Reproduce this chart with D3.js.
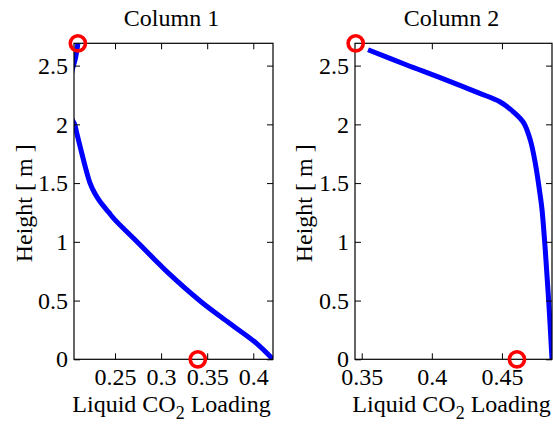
<!DOCTYPE html>
<html>
<head>
<meta charset="utf-8">
<script src="https://cdn.jsdelivr.net/npm/d3@7"></script>
<style>
  html, body { margin: 0; padding: 0; background: #fff; }
  svg { display: block; }
  text { font-family: "Liberation Serif", "Times New Roman", serif; fill: #000; }
</style>
</head>
<body>
<svg id="chart" width="553" height="424"></svg>
<script>
// Liquid CO2 loading profiles along the packed height of two columns
const col1Loading = [0.2097, 0.2070, 0.2032, 0.2015, 0.2014, 0.2030, 0.2062, 0.2085, 0.2139, 0.2180, 0.2229, 0.2276, 0.2335, 0.2433, 0.2500, 0.2755, 0.2934, 0.3080, 0.3433, 0.3742, 0.4035, 0.4214];
const col1Height  = [2.69,   2.56,   2.45,   2.30,   2.15,   2.05,   2.00,   1.925,  1.755,  1.63,   1.50,   1.42,   1.345,  1.25,   1.187,  0.988,  0.846,  0.733,  0.490,  0.307,  0.136,  0.0];

const col2Loading = [0.3545, 0.3821, 0.4059, 0.4333, 0.4488, 0.4583, 0.4654, 0.4702, 0.4738, 0.4774, 0.4786, 0.4809, 0.4833, 0.4857];
const col2Height  = [2.635,  2.505,  2.398,  2.268,  2.190,  2.105,  2.015,  1.868,  1.669,  1.385,  1.272,  0.931,  0.505,  0.0];

// Inlet / outlet loading markers (red rings)
const col1MarkLoading = [0.2097, 0.3398];
const col1MarkHeight  = [2.69, 0.0];
const col2MarkLoading = [0.3457, 0.4607];
const col2MarkHeight  = [2.69, 0.0];

const titles = ["Column 1", "Column 2"];
const col1XTicks = [0.25, 0.3, 0.35, 0.4];
const col2XTicks = [0.35, 0.4, 0.45];
const yTicks = [0, 0.5, 1, 1.5, 2, 2.5];

const panels = [
  { title: titles[0], x: col1Loading, y: col1Height, mx: col1MarkLoading, my: col1MarkHeight,
    xDomain: [0.2055, 0.4214], xTicks: col1XTicks, left: 74, right: 273, ylabX: 32 },
  { title: titles[1], x: col2Loading, y: col2Height, mx: col2MarkLoading, my: col2MarkHeight,
    xDomain: [0.3452, 0.4857], xTicks: col2XTicks, left: 355, right: 552, ylabX: 312 }
];

const plotTop = 43.3, plotBottom = 359.3;
const fontSize = 24;
const svg = d3.select("#chart");
const fmt = d => String(+d.toFixed(2));

panels.forEach((p, i) => {
  const x = d3.scaleLinear().domain(p.xDomain).range([p.left, p.right]);
  const y = d3.scaleLinear().domain([0, 2.69]).range([plotBottom, plotTop]);
  const g = svg.append("g");

  const clipId = "clip" + i;
  svg.append("clipPath").attr("id", clipId)
    .append("rect")
    .attr("x", p.left).attr("y", plotTop)
    .attr("width", p.right - p.left).attr("height", plotBottom - plotTop);

  // profile line
  const line = d3.line().curve(d3.curveCatmullRom.alpha(0.5)).x(d => x(d[0])).y(d => y(d[1]));
  g.append("path")
    .datum(p.x.map((v, k) => [v, p.y[k]]))
    .attr("clip-path", `url(#${clipId})`)
    .attr("d", line)
    .attr("fill", "none")
    .attr("stroke", "#0000ff")
    .attr("stroke-width", 5)
    .attr("stroke-linejoin", "round");

  // axes with inward ticks on all four sides
  const tickLen = 6;
  const styleAxis = sel => {
    sel.select(".domain").remove();
    sel.selectAll(".tick line").attr("stroke", "#000").attr("stroke-width", 1);
    sel.selectAll("text").style("font-size", fontSize + "px").style("font-family", "Liberation Serif, serif").attr("fill", "#000");
  };
  g.append("g").attr("transform", `translate(0,${plotBottom})`)
    .call(d3.axisBottom(x).tickValues(p.xTicks).tickSize(-tickLen).tickPadding(9).tickFormat(fmt))
    .call(styleAxis);
  g.append("g").attr("transform", `translate(0,${plotTop})`)
    .call(d3.axisTop(x).tickValues(p.xTicks).tickSize(-tickLen).tickFormat(""))
    .call(styleAxis);
  g.append("g").attr("transform", `translate(${p.left},0)`)
    .call(d3.axisLeft(y).tickValues(yTicks).tickSize(-tickLen).tickPadding(6).tickFormat(fmt))
    .call(styleAxis);
  g.append("g").attr("transform", `translate(${p.right},0)`)
    .call(d3.axisRight(y).tickValues(yTicks).tickSize(-tickLen).tickFormat(""))
    .call(styleAxis);

  // frame
  g.append("rect")
    .attr("x", p.left).attr("y", plotTop)
    .attr("width", p.right - p.left).attr("height", plotBottom - plotTop)
    .attr("fill", "none").attr("stroke", "#000").attr("stroke-width", 1.2);

  // markers
  g.selectAll("circle.mark")
    .data(p.mx.map((v, k) => [v, p.my[k]]))
    .join("circle")
    .attr("class", "mark")
    .attr("cx", d => x(d[0])).attr("cy", d => y(d[1]))
    .attr("r", 7.6)
    .attr("fill", "none")
    .attr("stroke", "#ff0000")
    .attr("stroke-width", 3.6);

  const cx = (p.left + p.right) / 2;

  // title
  g.append("text")
    .attr("x", cx - 2).attr("y", 26)
    .attr("text-anchor", "middle")
    .style("font-size", fontSize + "px")
    .text(p.title);

  // x label with subscript
  const xl = g.append("text")
    .attr("x", cx - 2).attr("y", 412)
    .attr("text-anchor", "middle")
    .style("font-size", fontSize + "px");
  xl.append("tspan").text("Liquid CO");
  xl.append("tspan").attr("dy", 7).style("font-size", "18px").text("2");
  xl.append("tspan").attr("dy", -7).text(" Loading");

  // y label
  g.append("text")
    .attr("transform", `translate(${p.ylabX},${(plotTop + plotBottom) / 2 + 2}) rotate(-90)`)
    .attr("text-anchor", "middle")
    .style("font-size", fontSize + "px")
    .text("Height [ m ]");
});
</script>
</body>
</html>
